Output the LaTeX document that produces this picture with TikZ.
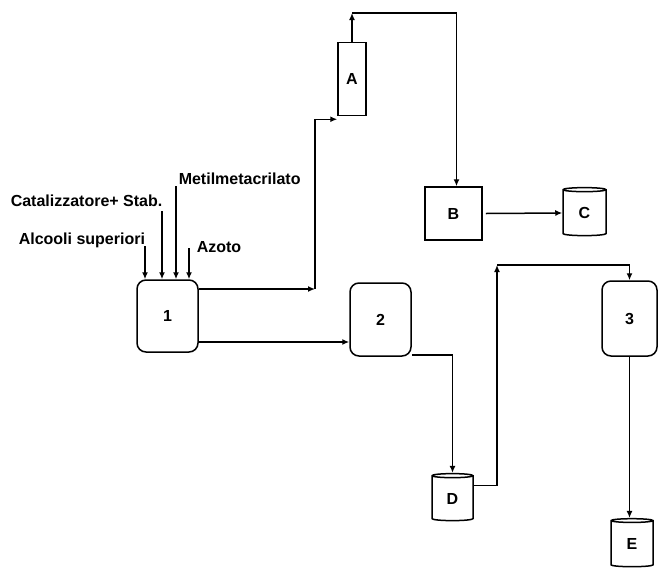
\documentclass[tikz,border=0pt]{standalone}
\usepackage{fontspec}
\setmainfont{Liberation Sans}
\usepackage{tikz}
\usetikzlibrary{arrows.meta,shapes.geometric,calc}

\begin{document}
\begin{tikzpicture}[
			x=1pt, y=-1pt,
			font=\fontsize{16}{18}\selectfont\bfseries,
			>={Latex[length=7pt,width=6pt]},
			line width=1.5pt,
			reactor/.style={draw, rounded corners=9pt, align=center},
			column/.style={draw, align=center},
			tank/.style={draw, cylinder, shape border rotate=90, aspect=0.35, inner sep=0pt, align=center},
			feed/.style={anchor=west, inner sep=0pt},
			arrow/.style={->}
			]
			
			\useasboundingbox (0,0) rectangle (658,568);
			
			% Reactors
			\node[reactor, minimum width=61pt, minimum height=72pt] (n1) at (167.5,316) {1};
			\node[reactor, minimum width=61pt, minimum height=73pt] (n2) at (380.5,319.5) {2};
			\node[reactor, minimum width=55pt, minimum height=75pt] (n3) at (629.5,318.5) {3};
			
			% Columns
			\node[column, minimum width=28pt, minimum height=73pt] (colA) at (352,79) {A};
			\node[column, minimum width=57pt, minimum height=53pt] (colB) at (453.5,213.5) {B};
			
			% Tanks
			\node[tank, minimum width=43pt, minimum height=48pt] (tankC) at (584.5,213) {C};
			\node[tank, minimum width=41pt, minimum height=47pt] (tankD) at (452.5,498.5) {D};
			\node[tank, minimum width=42pt, minimum height=48pt] (tankE) at (632,544) {E};
			
			% Feeds
			\node[feed] (lblMeti) at (178,179) {Metilmetacrilato};
			\node[feed] (lblCata) at (10,201) {Catalizzatore+ Stab.};
			\node[feed] (lblAlco) at (18,240) {Alcooli superiori};
			\node[feed] (lblAzot) at (196,247) {Azoto};
			\coordinate (inAlco) at (145,246);
			\coordinate (inCata) at (162,211);
			\coordinate (inMeti) at (176,186);
			\coordinate (inAzot) at (189,248);
			\foreach \f in {inAlco,inCata,inMeti,inAzot}
				\draw[arrow] (\f) -- (\f |- n1.north);
			
			% Corners
			\coordinate (cornA) at (315,289);
			\coordinate (topA) at (352,13);
			\coordinate (cornD) at (497,265);
			
			% Flows
			\draw[arrow] (n1.east |- cornA) -- (cornA);
			\draw[arrow] (cornA) |- ([yshift=-3pt]colA.south west);
			\draw[arrow] (colA.north) -- (topA);
			\draw[arrow] (topA) -| ([xshift=3pt]colB.north);
			\draw[arrow] ([xshift=3pt]colB.east) -- (tankC.west);
			\draw[arrow] ([yshift=-26pt]n1.east) -- ([yshift=-26pt]n1.east -| n2.west);
			\draw[arrow] ([yshift=2pt]n2.south east) -| (tankD.north);
			\draw[arrow] ([yshift=13pt]tankD.east) -| (cornD);
			\draw[arrow] (cornD) -| (n3.north);
			\draw[arrow] (n3.south) -- (n3.south |- tankE.north);
			
		\end{tikzpicture}
\end{document}
